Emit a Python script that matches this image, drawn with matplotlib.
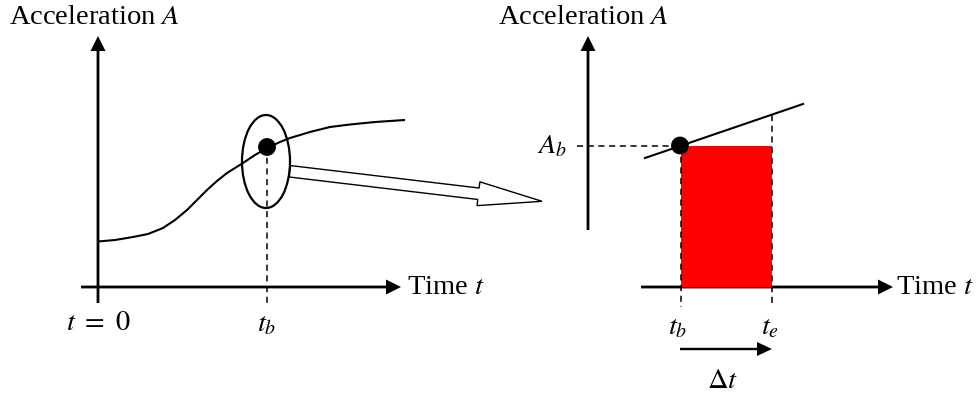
import matplotlib
matplotlib.use("Agg")
import matplotlib.pyplot as plt
from matplotlib.patches import Ellipse, Circle, Rectangle, FancyArrow

plt.rcParams['font.family'] = ['Liberation Serif', 'DejaVu Serif']
plt.rcParams['mathtext.fontset'] = 'stix'

# ---- data (diagram coordinates, pixel-like units, y grows downwards) ----
curve_t = [98, 115, 133, 148, 163, 175, 187, 197, 207, 217, 227, 235, 243, 255, 267,
           280, 290, 310, 330, 350, 375, 405]
curve_a = [241.5, 240, 237, 234, 228, 220, 210, 200, 190, 181, 173, 168, 163, 155, 148,
           142, 138, 132, 127, 124.5, 122, 120]
point_left = (267, 147)
tangent_t = [645, 803]
tangent_a = [158, 104]
point_right = (680, 145.5)
t_b_right, t_e_right = 681, 772
axis_base = 287

labels_axis_y = "Acceleration $A$"
labels_axis_x = "Time $t$"

fig = plt.figure(figsize=(9.78, 3.95), dpi=100)
ax = fig.add_axes([0, 0, 1, 1])
ax.set_xlim(0, 978)
ax.set_ylim(395, 0)
ax.set_aspect('equal')
ax.axis('off')

def axis_arrow(x0, y0, x1, y1):
    ax.add_patch(FancyArrow(x0, y0, x1 - x0, y1 - y0, width=2.8, head_width=15,
                            head_length=15, length_includes_head=True,
                            fc='black', ec='black', lw=0))

# ----- left panel -----
axis_arrow(98, 303, 98, 36)
axis_arrow(81, axis_base, 401, axis_base)
ax.plot(curve_t, curve_a, color='black', lw=1.5, solid_capstyle='butt',
        solid_joinstyle='round')
ax.add_patch(Ellipse((266, 161.5), 48, 93, fill=False, ec='black', lw=1.6))
ax.plot([point_left[0], point_left[0]], [point_left[1], 306], color='black',
        lw=1.1, ls=(0, (4, 3)))
ax.add_patch(Circle(point_left, 8.2, color='black', zorder=5))

# hollow arrow
ax.add_patch(FancyArrow(290, 171.3, 252, 30, width=11.5, head_width=24,
                        head_length=64, length_includes_head=True,
                        fc='white', ec='black', lw=1.0, zorder=4))

# ----- right panel -----
axis_arrow(588, 230, 588, 36)
axis_arrow(641, axis_base, 893, axis_base)
ax.add_patch(Rectangle((t_b_right, point_right[1]), t_e_right - t_b_right,
                       axis_base - point_right[1], color='#ff0000', lw=0, zorder=1))
ax.plot(tangent_t, tangent_a, color='black', lw=1.5)
dash = (0, (4, 3))
ax.plot([577, point_right[0]], [point_right[1], point_right[1]], color='black', lw=1.1, ls=dash)
ax.plot([t_b_right, t_b_right], [point_right[1], 307], color='black', lw=1.1, ls=dash)
te_top = tangent_a[0] + (tangent_a[1] - tangent_a[0]) * (t_e_right - tangent_t[0]) / (tangent_t[1] - tangent_t[0])
ax.plot([t_e_right, t_e_right], [te_top, 307], color='black', lw=1.1, ls=dash)
ax.add_patch(Circle(point_right, 8.2, color='black', zorder=5))
ax.add_patch(FancyArrow(680, 349, 92, 0, width=2.4, head_width=14, head_length=15,
                        length_includes_head=True, fc='black', ec='black', lw=0))

# ----- text -----
fs = 20.5
ax.text(9, 18, labels_axis_y, fontsize=fs, va='center', ha='left')
ax.text(498, 18, labels_axis_y, fontsize=fs, va='center', ha='left')
ax.text(407, 287, labels_axis_x, fontsize=fs, va='center', ha='left')
ax.text(896, 287, labels_axis_x, fontsize=fs, va='center', ha='left')
ax.text(98, 323, r"$t\ =\ 0$", fontsize=fs, va='center', ha='center')
ax.text(267, 325, "$t_b$", fontsize=fs, va='center', ha='center')
ax.text(552, 147, "$A_b$", fontsize=fs, va='center', ha='center')
ax.text(678, 328, "$t_b$", fontsize=fs, va='center', ha='center')
ax.text(770, 328, "$t_e$", fontsize=fs, va='center', ha='center')
ax.text(723, 381, r"$\Delta t$", fontsize=fs, va='center', ha='center')

fig.savefig("out.png", dpi=100)
